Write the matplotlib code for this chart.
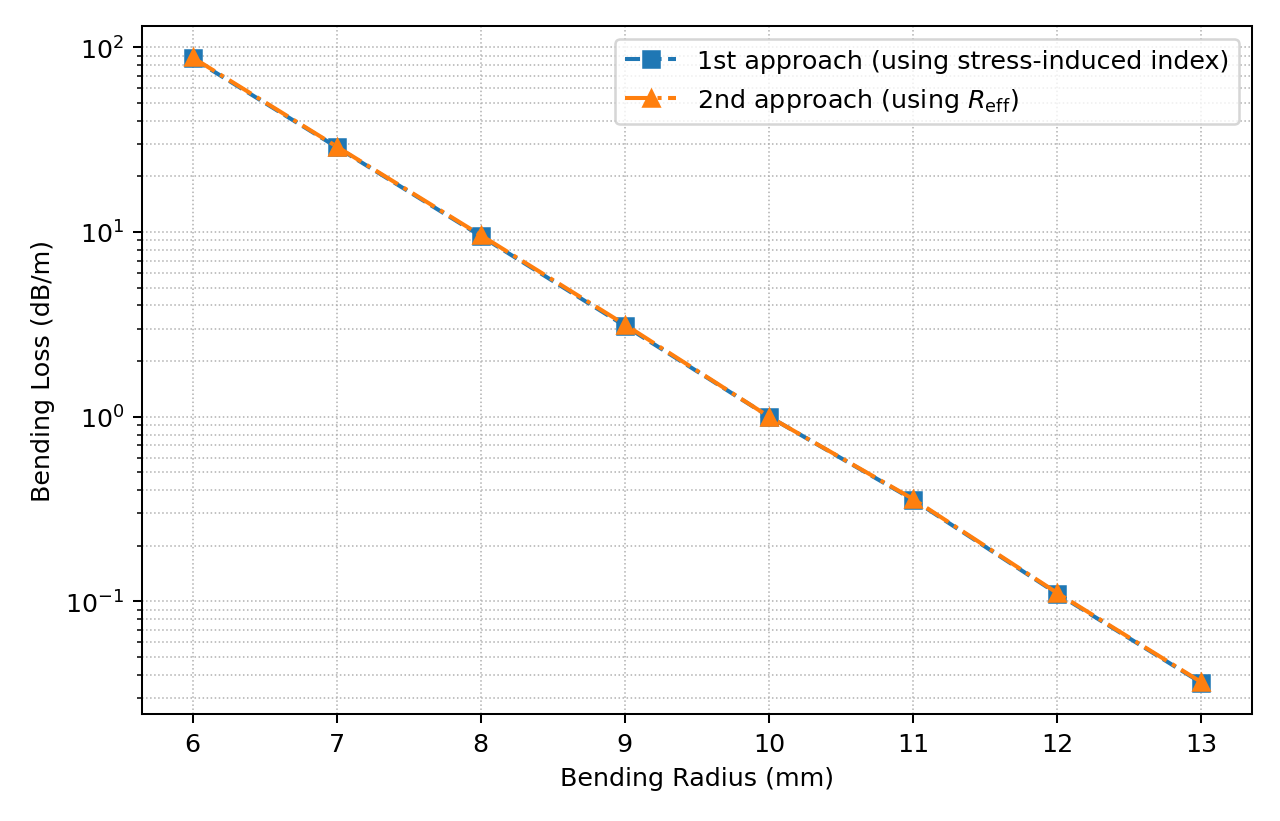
import matplotlib
matplotlib.use("Agg")
import matplotlib.pyplot as plt

radius_mm = [6, 7, 8, 9, 10, 11, 12, 13]
loss_stress = [87, 28.8, 9.5, 3.1, 1.0, 0.355, 0.110, 0.0362]
loss_reff = [88, 29.0, 9.6, 3.15, 1.0, 0.358, 0.111, 0.0365]

DPI = 1280 / 7
fig, ax = plt.subplots(figsize=(7, 4.495), dpi=DPI)

ax.semilogy(radius_mm, loss_stress, 's--', color='tab:blue', markersize=6.5,
            linewidth=1.6, label='1st approach (using stress-induced index)')
ax.semilogy(radius_mm, loss_reff, '^-.', color='tab:orange', markersize=6.5,
            linewidth=1.6, label=r'2nd approach (using $R_{\mathrm{eff}}$)')

ax.set_xlabel('Bending Radius (mm)')
ax.set_ylabel('Bending Loss (dB/m)')
ax.grid(True, which='both', linestyle=':', linewidth=0.6, color='#b0b0b0')
ax.legend(loc='upper right')

fig.subplots_adjust(left=0.111, right=0.978, top=0.967, bottom=0.13)
fig.savefig('out.png', dpi=DPI)
